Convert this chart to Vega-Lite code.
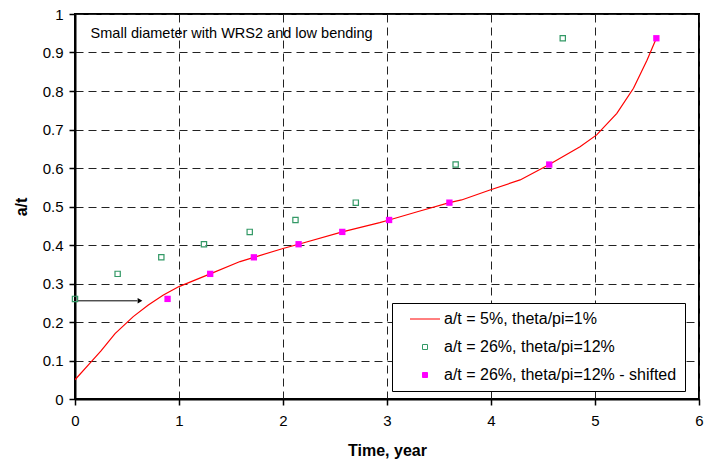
{
  "$schema": "https://vega.github.io/schema/vega-lite/v6.json",
  "width": 624,
  "height": 385,
  "autosize": "none",
  "padding": {"left": 75, "top": 14, "right": 13, "bottom": 65},
  "background": "white",
  "config": {
    "font": "Liberation Sans",
    "view": {"stroke": "black", "strokeWidth": 2},
    "axis": {
      "labelFont": "Liberation Sans",
      "titleFont": "Liberation Sans",
      "labelFontSize": 15,
      "labelColor": "black",
      "titleFontSize": 16,
      "titleFontWeight": "bold",
      "titleColor": "black",
      "domainColor": "black",
      "domainWidth": 2,
      "tickColor": "black",
      "tickWidth": 1.5,
      "tickSize": 6,
      "gridColor": "#222",
      "gridDash": [8, 5],
      "gridWidth": 1,
      "labelOverlap": false,
      "labelFlush": false
    }
  },
  "datasets": {
    "curve": [
      {"t": 0, "a": 0.05, "series": "a/t = 5%, theta/pi=1%"},
      {"t": 0.144, "a": 0.093, "series": "a/t = 5%, theta/pi=1%"},
      {"t": 0.25, "a": 0.125, "series": "a/t = 5%, theta/pi=1%"},
      {"t": 0.385, "a": 0.17, "series": "a/t = 5%, theta/pi=1%"},
      {"t": 0.56, "a": 0.214, "series": "a/t = 5%, theta/pi=1%"},
      {"t": 0.705, "a": 0.244, "series": "a/t = 5%, theta/pi=1%"},
      {"t": 0.85, "a": 0.27, "series": "a/t = 5%, theta/pi=1%"},
      {"t": 1.0, "a": 0.292, "series": "a/t = 5%, theta/pi=1%"},
      {"t": 1.3, "a": 0.325, "series": "a/t = 5%, theta/pi=1%"},
      {"t": 1.587, "a": 0.357, "series": "a/t = 5%, theta/pi=1%"},
      {"t": 1.72, "a": 0.368, "series": "a/t = 5%, theta/pi=1%"},
      {"t": 2.0, "a": 0.391, "series": "a/t = 5%, theta/pi=1%"},
      {"t": 2.15, "a": 0.402, "series": "a/t = 5%, theta/pi=1%"},
      {"t": 2.57, "a": 0.434, "series": "a/t = 5%, theta/pi=1%"},
      {"t": 2.93, "a": 0.458, "series": "a/t = 5%, theta/pi=1%"},
      {"t": 3.02, "a": 0.465, "series": "a/t = 5%, theta/pi=1%"},
      {"t": 3.3, "a": 0.487, "series": "a/t = 5%, theta/pi=1%"},
      {"t": 3.6, "a": 0.51, "series": "a/t = 5%, theta/pi=1%"},
      {"t": 3.717, "a": 0.517, "series": "a/t = 5%, theta/pi=1%"},
      {"t": 3.99, "a": 0.543, "series": "a/t = 5%, theta/pi=1%"},
      {"t": 4.28, "a": 0.569, "series": "a/t = 5%, theta/pi=1%"},
      {"t": 4.56, "a": 0.609, "series": "a/t = 5%, theta/pi=1%"},
      {"t": 4.856, "a": 0.655, "series": "a/t = 5%, theta/pi=1%"},
      {"t": 5.016, "a": 0.686, "series": "a/t = 5%, theta/pi=1%"},
      {"t": 5.21, "a": 0.742, "series": "a/t = 5%, theta/pi=1%"},
      {"t": 5.37, "a": 0.807, "series": "a/t = 5%, theta/pi=1%"},
      {"t": 5.5, "a": 0.88, "series": "a/t = 5%, theta/pi=1%"},
      {"t": 5.59, "a": 0.937, "series": "a/t = 5%, theta/pi=1%"}
    ],
    "orig": [
      {"t": 0, "a": 0.26, "series": "a/t = 26%, theta/pi=12%"},
      {"t": 0.41, "a": 0.325, "series": "a/t = 26%, theta/pi=12%"},
      {"t": 0.83, "a": 0.368, "series": "a/t = 26%, theta/pi=12%"},
      {"t": 1.24, "a": 0.402, "series": "a/t = 26%, theta/pi=12%"},
      {"t": 1.68, "a": 0.434, "series": "a/t = 26%, theta/pi=12%"},
      {"t": 2.12, "a": 0.465, "series": "a/t = 26%, theta/pi=12%"},
      {"t": 2.7, "a": 0.51, "series": "a/t = 26%, theta/pi=12%"},
      {"t": 3.66, "a": 0.609, "series": "a/t = 26%, theta/pi=12%"},
      {"t": 4.69, "a": 0.937, "series": "a/t = 26%, theta/pi=12%"}
    ],
    "shifted": [
      {"t": 0.89, "a": 0.26, "series": "a/t = 26%, theta/pi=12% - shifted"},
      {"t": 1.3, "a": 0.325, "series": "a/t = 26%, theta/pi=12% - shifted"},
      {"t": 1.72, "a": 0.368, "series": "a/t = 26%, theta/pi=12% - shifted"},
      {"t": 2.15, "a": 0.402, "series": "a/t = 26%, theta/pi=12% - shifted"},
      {"t": 2.57, "a": 0.434, "series": "a/t = 26%, theta/pi=12% - shifted"},
      {"t": 3.02, "a": 0.465, "series": "a/t = 26%, theta/pi=12% - shifted"},
      {"t": 3.6, "a": 0.51, "series": "a/t = 26%, theta/pi=12% - shifted"},
      {"t": 4.56, "a": 0.609, "series": "a/t = 26%, theta/pi=12% - shifted"},
      {"t": 5.59, "a": 0.937, "series": "a/t = 26%, theta/pi=12% - shifted"}
    ],
    "arrow": [
      {"t": 0.03, "t2": 0.6, "a": 0.255}
    ],
    "tip": [
      {"t": 0.625, "a": 0.255}
    ],
    "note": [
      {"t": 0.15, "a": 0.948, "label": "Small diameter with WRS2 and low bending"}
    ]
  },
  "encoding": {
    "x": {
      "field": "t", "type": "quantitative",
      "scale": {"domain": [0, 6], "nice": false},
      "axis": {
        "values": [0, 1, 2, 3, 4, 5, 6], "format": "d",
        "title": "Time, year", "labelPadding": 8, "titlePadding": 14,
        "grid": true
      }
    },
    "y": {
      "field": "a", "type": "quantitative",
      "scale": {"domain": [0, 1], "nice": false},
      "axis": {
        "values": [0, 0.1, 0.2, 0.3, 0.4, 0.5, 0.6, 0.7, 0.8, 0.9, 1],
        "format": ".1~f",
        "title": "a/t", "labelPadding": 6, "titlePadding": 13,
        "grid": true
      }
    }
  },
  "layer": [
    {
      "data": {"name": "curve"},
      "mark": {"type": "line", "strokeWidth": 1.2, "clip": true},
      "encoding": {
        "color": {
          "field": "series", "type": "nominal",
          "scale": {
            "domain": ["a/t = 5%, theta/pi=1%", "a/t = 26%, theta/pi=12%", "a/t = 26%, theta/pi=12% - shifted"],
            "range": ["#FF0000", "#339966", "#FF00FF"]
          },
          "legend": {
            "title": null,
            "orient": "none",
            "legendX": 317,
            "legendY": 289,
            "strokeColor": "black",
            "fillColor": "white",
            "padding": 8,
            "symbolOffset": 17,
            "labelOffset": 11,
            "labelFontSize": 16,
            "labelColor": "black",
            "labelFont": "Liberation Sans",
            "labelLimit": 400,
            "rowPadding": 12,
            "encode": {
              "symbols": {
                "update": {
                  "shape": {"signal": "datum.value === 'a/t = 5%, theta/pi=1%' ? 'stroke' : 'square'"},
                  "size": {"signal": "datum.value === 'a/t = 5%, theta/pi=1%' ? 900 : 25"},
                  "fill": {"signal": "datum.value === 'a/t = 26%, theta/pi=12% - shifted' ? '#FF00FF' : 'white'"},
                  "fillOpacity": {"signal": "datum.value === 'a/t = 26%, theta/pi=12%' ? 0 : 1"},
                  "stroke": {"signal": "datum.value === 'a/t = 5%, theta/pi=1%' ? '#FF0000' : (datum.value === 'a/t = 26%, theta/pi=12%' ? '#339966' : '#FF00FF')"},
                  "strokeWidth": {"value": 1},
                  "opacity": {"value": 1}
                }
              }
            }
          }
        }
      }
    },
    {
      "data": {"name": "orig"},
      "mark": {"type": "point", "shape": "square", "filled": false, "size": 28, "strokeWidth": 1.2, "opacity": 1},
      "encoding": {
        "color": {"field": "series", "type": "nominal"}
      }
    },
    {
      "data": {"name": "shifted"},
      "mark": {"type": "point", "shape": "square", "filled": true, "size": 40, "opacity": 1},
      "encoding": {
        "color": {"field": "series", "type": "nominal"}
      }
    },
    {
      "data": {"name": "arrow"},
      "mark": {"type": "rule", "color": "black", "strokeWidth": 1},
      "encoding": {
        "x2": {"field": "t2"}
      }
    },
    {
      "data": {"name": "tip"},
      "mark": {"type": "point", "shape": "triangle-right", "filled": true, "color": "black", "size": 30, "opacity": 1},
      "encoding": {}
    },
    {
      "data": {"name": "note"},
      "mark": {"type": "text", "align": "left", "baseline": "middle", "fontSize": 14.5, "font": "Liberation Sans", "color": "black"},
      "encoding": {
        "text": {"field": "label"}
      }
    }
  ]
}
